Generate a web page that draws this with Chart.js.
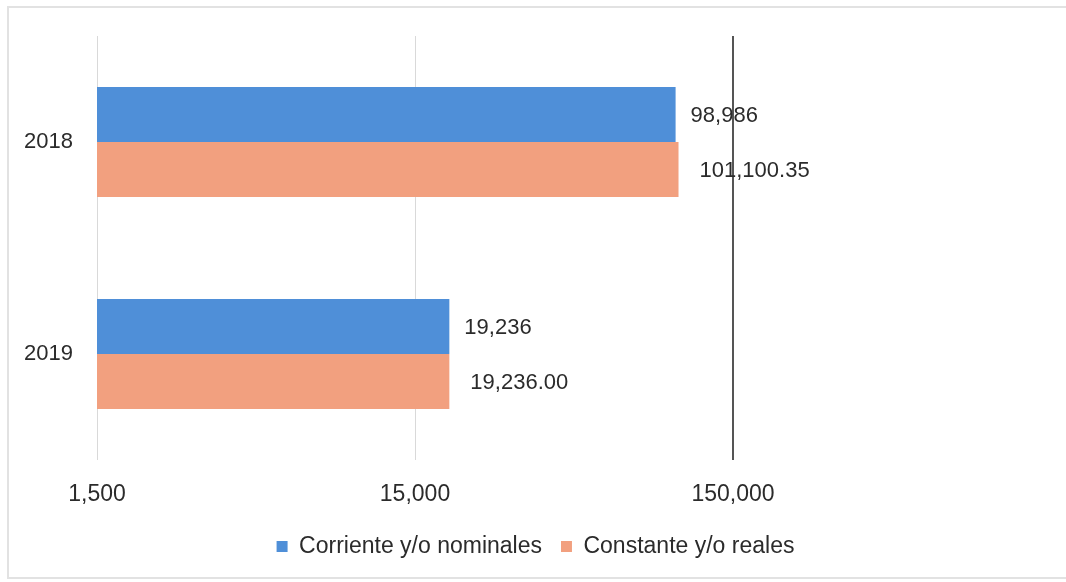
<!DOCTYPE html>
<html>
<head>
<meta charset="utf-8">
<script src="https://cdn.jsdelivr.net/npm/chart.js@4.4.1/dist/chart.umd.min.js"></script>
<style>
  html, body { margin: 0; padding: 0; background: #fff; }
  #wrap { position: relative; width: 1066px; height: 582px; }
  #frame { position: absolute; left: 7px; top: 6px; width: 1070px; height: 573px;
           border: 2px solid #e2e2e2; border-right: none; box-sizing: border-box; }
  canvas { position: absolute; left: 0; top: 0; }
</style>
</head>
<body>
<div id="wrap">
  <div id="frame"></div>
  <canvas id="chart" width="1066" height="582"></canvas>
</div>
<script>
const years = ['2018', '2019'];
const nominales = [98986, 19236];
const reales = [101100.35, 19236.00];
const nominalLabels = ['98,986', '19,236'];
const realLabels = ['101,100.35', '19,236.00'];
const axisTicks = [1500, 15000, 150000, 1500000];

const fontFamily = '"Liberation Sans", Arial, sans-serif';

// draws the value text just past the end of each bar
const valueLabels = {
  id: 'valueLabels',
  afterDatasetsDraw(chart) {
    const ctx = chart.ctx;
    ctx.save();
    ctx.font = '22px ' + fontFamily;
    ctx.fillStyle = '#2b2b2b';
    ctx.textBaseline = 'middle';
    chart.data.datasets.forEach((ds, i) => {
      const meta = chart.getDatasetMeta(i);
      const texts = i === 0 ? nominalLabels : realLabels;
      const gap = i === 0 ? 15 : 21;
      meta.data.forEach((bar, j) => {
        ctx.fillText(texts[j], bar.x + gap, bar.y + 1);
      });
    });
    ctx.restore();
  }
};

new Chart(document.getElementById('chart'), {
  type: 'bar',
  data: {
    labels: years,
    datasets: [
      { label: 'Corriente y/o nominales', data: nominales, backgroundColor: '#4f8fd8' },
      { label: 'Constante y/o reales', data: reales, backgroundColor: '#f2a07f' }
    ]
  },
  options: {
    indexAxis: 'y',
    responsive: false,
    animation: false,
    layout: { padding: { top: 36, right: 15, bottom: 14, left: 20 } },
    scales: {
      x: {
        type: 'logarithmic',
        min: 1500,
        max: 1500000,
        afterBuildTicks: (scale) => { scale.ticks = axisTicks.map((v) => ({ value: v })); },
        afterFit: (scale) => {
          scale.height = 56;
          scale.paddingLeft = 0;
          scale.paddingRight = 0;
        },
        border: { display: false },
        grid: {
          drawTicks: false,
          color: (c) => {
            const v = c.tick && c.tick.value;
            if (v === 1500000) return 'rgba(0,0,0,0)';
            if (v === 150000) return '#555';
            return '#d9d9d9';
          },
          lineWidth: (c) => (c.tick && c.tick.value === 150000 ? 2 : 1)
        },
        ticks: {
          padding: 21,
          color: '#2b2b2b',
          font: { family: fontFamily, size: 23 },
          callback: (v) => (v === 1500000 ? '' : v.toLocaleString('en-US'))
        }
      },
      y: {
        afterFit: (scale) => { scale.width = 77; },
        border: { display: false },
        grid: { display: false },
        ticks: { padding: 16, color: '#2b2b2b', font: { family: fontFamily, size: 22 } }
      }
    },
    datasets: { bar: { categoryPercentage: 0.52, barPercentage: 1 } },
    plugins: {
      legend: {
        position: 'bottom',
        labels: {
          boxWidth: 11,
          boxHeight: 11,
          padding: 19,
          color: '#2b2b2b',
          font: { family: fontFamily, size: 23 }
        }
      },
      tooltip: { enabled: false }
    }
  },
  plugins: [valueLabels]
});
</script>
</body>
</html>
